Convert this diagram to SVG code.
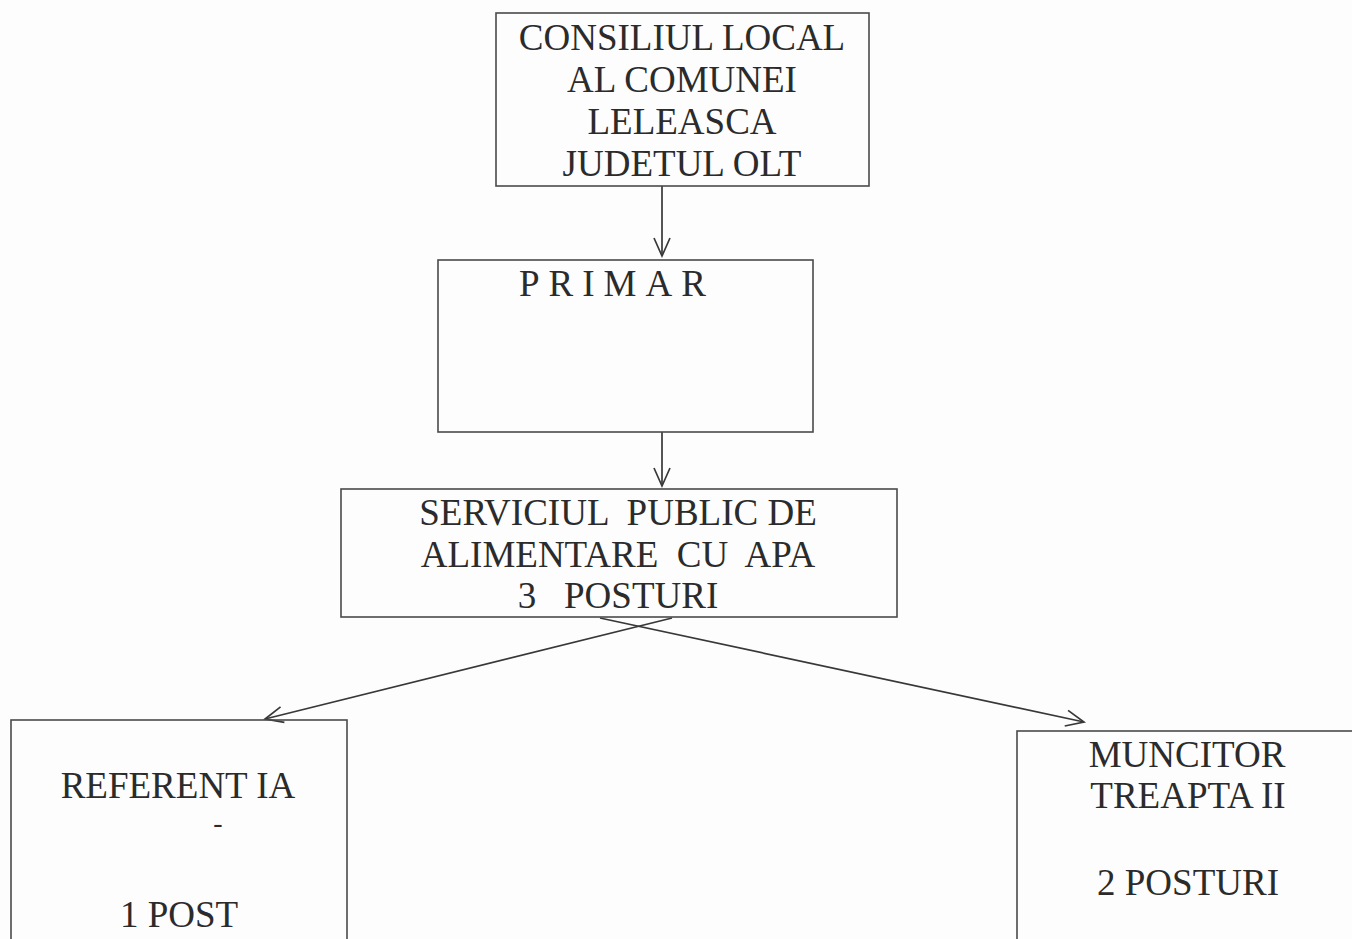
<svg xmlns="http://www.w3.org/2000/svg" width="1352" height="939" viewBox="0 0 1352 939">
  <style>
    .box { fill: none; stroke: #4a4a4a; stroke-width: 1.6; }
    .t { font-family: "Liberation Serif", "Times New Roman", serif; font-size: 37px; fill: #2b2b2b; text-anchor: middle; }
    .conn { fill: none; stroke: #383838; stroke-width: 1.7; }
  </style>
  <defs>
    <marker id="arrow" markerUnits="userSpaceOnUse" markerWidth="24" markerHeight="24" viewBox="-21 -12 24 24" refX="0" refY="0" orient="auto">
      <path d="M-18,-8 L0,0 L-18,8" fill="none" stroke="#383838" stroke-width="1.7"/>
    </marker>
  </defs>
  <rect x="0" y="0" width="1352" height="939" fill="#fdfdfd"/>

  <g id="connectors">
    <line class="conn" x1="662" y1="186" x2="662" y2="256" marker-end="url(#arrow)"/>
    <line class="conn" x1="662" y1="432" x2="662" y2="486" marker-end="url(#arrow)"/>
    <line class="conn" x1="672" y1="618" x2="265" y2="719" marker-end="url(#arrow)"/>
    <line class="conn" x1="600" y1="618" x2="1084" y2="722" marker-end="url(#arrow)"/>
  </g>

  <g id="consiliul">
    <rect class="box" x="496" y="13" width="373" height="173"/>
    <text class="t" x="682" y="50">CONSILIUL LOCAL</text>
    <text class="t" x="682" y="92">AL COMUNEI</text>
    <text class="t" x="682" y="134">LELEASCA</text>
    <text class="t" x="682" y="176">JUDETUL OLT</text>
  </g>

  <g id="primar">
    <rect class="box" x="438" y="260" width="375" height="172"/>
    <text class="t" x="519" y="296" style="text-anchor:start" letter-spacing="9">PRIMAR</text>
  </g>

  <g id="serviciul">
    <rect class="box" x="341" y="489" width="556" height="128"/>
    <text class="t" x="618" y="525" xml:space="preserve">SERVICIUL  PUBLIC DE</text>
    <text class="t" x="618" y="567" xml:space="preserve">ALIMENTARE  CU  APA</text>
    <text class="t" x="618" y="608" xml:space="preserve">3   POSTURI</text>
  </g>

  <g id="referent">
    <rect class="box" x="11" y="720" width="336" height="240"/>
    <text class="t" x="178" y="798">REFERENT IA</text>
    <text class="t" x="218" y="832" style="font-size:28px">-</text>
    <text class="t" x="179" y="927">1 POST</text>
  </g>

  <g id="muncitor">
    <rect class="box" x="1017" y="731" width="350" height="240"/>
    <text class="t" x="1187" y="767">MUNCITOR</text>
    <text class="t" x="1188" y="808">TREAPTA II</text>
    <text class="t" x="1188" y="895">2 POSTURI</text>
  </g>
</svg>
